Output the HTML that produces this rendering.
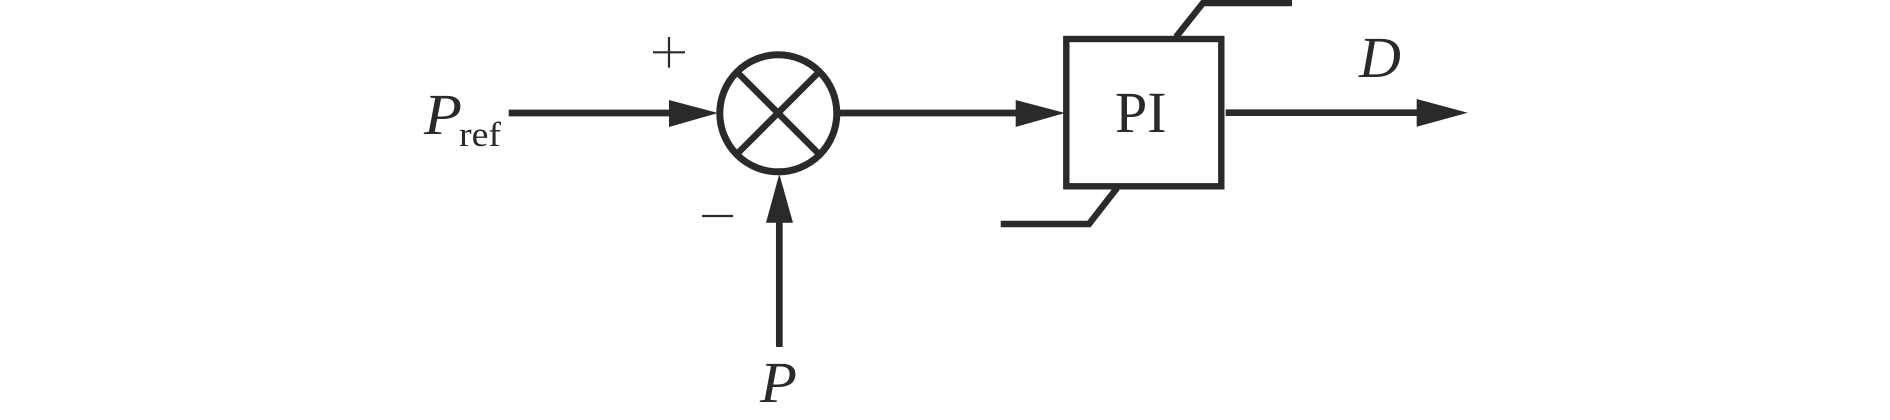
<!DOCTYPE html>
<html>
<head>
<meta charset="utf-8">
<style>
html,body{margin:0;padding:0;background:#fff;width:1890px;height:420px;overflow:hidden}
svg{display:block}
text{font-family:"Liberation Serif",serif;fill:#2b2a29}
</style>
</head>
<body>
<svg width="1890" height="420" viewBox="0 0 1890 420" xmlns="http://www.w3.org/2000/svg">
<rect width="1890" height="420" fill="#fff"/>
<g stroke="#2b2a29" fill="none">
  <line x1="508.7" y1="113" x2="672" y2="113" stroke-width="6.7"/>
  <polygon points="669,100 718,113 669,127" fill="#2b2a29" stroke="none"/>
  <circle cx="778.3" cy="113.3" r="58.5" stroke-width="7"/>
  <line x1="738" y1="73" x2="818" y2="153" stroke-width="6.5"/>
  <line x1="818" y1="73" x2="738" y2="153" stroke-width="6.5"/>
  <line x1="779.3" y1="347" x2="779.3" y2="220" stroke-width="6.7"/>
  <polygon points="766,222.7 779.3,174 793,222.7" fill="#2b2a29" stroke="none"/>
  <line x1="840" y1="113" x2="1018" y2="113" stroke-width="6.7"/>
  <polygon points="1015.7,100 1065,113 1015.7,127" fill="#2b2a29" stroke="none"/>
  <rect x="1066.3" y="39" width="155" height="147.3" stroke-width="6.4"/>
  <polyline points="1176,37 1203,3 1292,3" stroke-width="6.5"/>
  <polyline points="1117,188 1089,224 1000.7,224" stroke-width="6.5"/>
  <line x1="1225.7" y1="112.7" x2="1420" y2="112.7" stroke-width="6.7"/>
  <polygon points="1416.7,99 1467.7,112.7 1416.7,126.7" fill="#2b2a29" stroke="none"/>
  <line x1="653" y1="52.3" x2="685" y2="52.3" stroke-width="2.2"/>
  <line x1="669" y1="37" x2="669" y2="67.7" stroke-width="2.2"/>
  <line x1="702" y1="216" x2="733" y2="216" stroke-width="2.2"/>
</g>
<text x="424" y="134" font-size="58" font-style="italic" textLength="38" lengthAdjust="spacingAndGlyphs">P</text>
<text x="459" y="146" font-size="35" textLength="42" lengthAdjust="spacingAndGlyphs">ref</text>
<text x="760" y="402" font-size="58" font-style="italic" textLength="37" lengthAdjust="spacingAndGlyphs">P</text>
<text x="1115" y="132" font-size="58">PI</text>
<text x="1359" y="77" font-size="58" font-style="italic">D</text>
</svg>
</body>
</html>
